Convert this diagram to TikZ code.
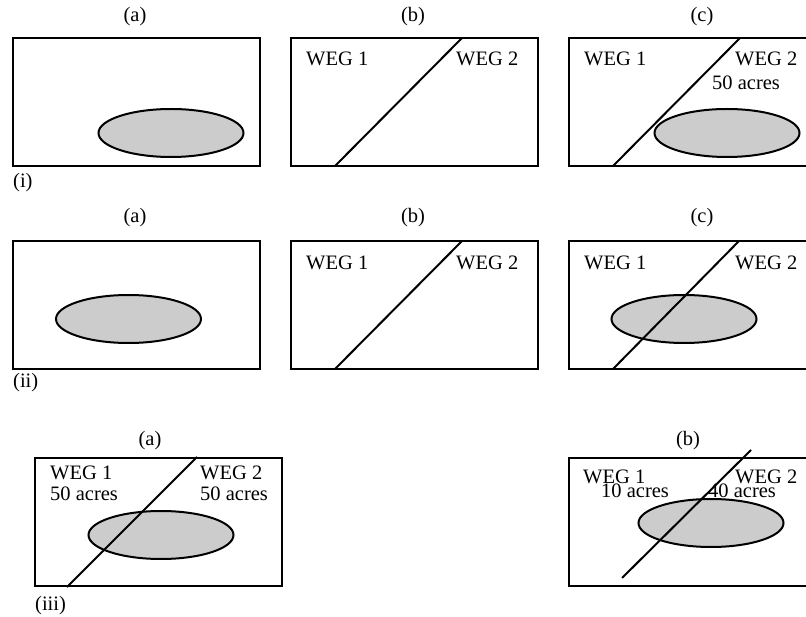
\documentclass[tikz,border=0pt]{standalone}
\usepackage{fontspec}
\setmainfont{Liberation Serif}
\usetikzlibrary{shapes.geometric}
\definecolor{zone}{RGB}{204,204,204}
\begin{document}
\begin{tikzpicture}[x=1pt,y=-1pt,
  txt/.style={inner sep=0pt,font=\fontsize{20.5}{20.5}\selectfont},
  lbl/.style={txt,anchor=base west},
  panel/.style={draw,line width=2pt,inner sep=0pt,minimum width=247pt,minimum height=128pt},
  zonee/.style={ellipse,draw,line width=2pt,fill=zone,inner sep=0pt,minimum width=145pt,minimum height=48pt},
  divide/.style={line width=2pt}]
\useasboundingbox (0,0) rectangle (806,617);
% ---------- row (i)
\node[txt] (ia) at (135,17) {(a)};
\node[txt] (ib) at (413,17) {(b)};
\node[txt] (ic) at (702,17) {(c)};
\node[panel] (pia) at (136.5,102) {};
\node[zonee] (eia) at (171,133) {};
\node[txt,anchor=west] (ri) at (13,183) {(i)};
\node[panel] (pib) at (414,102) {};
\coordinate (lib1) at (335,166);
\coordinate (lib2) at (462,38);
\draw[divide] (lib1) -- (lib2);
\node[lbl] (wib1) at (306,66) {WEG 1};
\node[lbl] (wib2) at (456,66) {WEG 2};
\node[panel] (pic) at (692.5,102) {};
\node[zonee] (eic) at (727,133) {};
\coordinate (lic1) at (613,166);
\coordinate (lic2) at (740,38);
\draw[divide] (lic1) -- (lic2);
\node[lbl] (wic1) at (584,66) {WEG 1};
\node[lbl] (wic2) at (735,66) {WEG 2};
\node[lbl] (aic2) at (712,90) {50 acres};
% ---------- row (ii)
\node[txt] (iia) at (135,218) {(a)};
\node[txt] (iib) at (413,218) {(b)};
\node[txt] (iic) at (702,218) {(c)};
\node[panel] (piia) at (136.5,305) {};
\node[zonee] (eiia) at (128.5,319) {};
\node[txt,anchor=west] (rii) at (13,383) {(ii)};
\node[panel] (piib) at (414,305) {};
\coordinate (liib1) at (335,369);
\coordinate (liib2) at (462,241);
\draw[divide] (liib1) -- (liib2);
\node[lbl] (wiib1) at (306,270) {WEG 1};
\node[lbl] (wiib2) at (456,270) {WEG 2};
\node[panel] (piic) at (692.5,305) {};
\node[zonee] (eiic) at (684,319) {};
\coordinate (liic1) at (613,369);
\coordinate (liic2) at (739,241);
\draw[divide] (liic1) -- (liic2);
\node[lbl] (wiic1) at (584,270) {WEG 1};
\node[lbl] (wiic2) at (735,270) {WEG 2};
% ---------- row (iii)
\node[txt] (iiia) at (150,441) {(a)};
\node[txt] (iiib) at (688,441) {(b)};
\node[panel] (piiia) at (158,521.5) {};
\node[zonee] (eiiia) at (161,535) {};
\coordinate (liiia1) at (67,587);
\coordinate (liiia2) at (197,457);
\draw[divide] (liiia1) -- (liiia2);
\node[lbl] (wiiia1) at (50,479) {WEG 1};
\node[lbl] (aiiia1) at (50,500) {50 acres};
\node[lbl] (wiiia2) at (200,479) {WEG 2};
\node[lbl] (aiiia2) at (200,500) {50 acres};
\node[txt,anchor=west] (riii) at (35,606) {(iii)};
\node[panel] (piiib) at (692.5,521.5) {};
\node[zonee] (eiiib) at (711,523) {};
\coordinate (liiib1) at (622,578);
\coordinate (liiib2) at (751,450);
\draw[divide] (liiib1) -- (liiib2);
\node[lbl] (wiiib1) at (583,483) {WEG 1};
\node[lbl] (aiiib1) at (601,497) {10 acres};
\node[lbl] (wiiib2) at (735,483) {WEG 2};
\node[lbl] (aiiib2) at (708,497) {40 acres};
\end{tikzpicture}
\end{document}
